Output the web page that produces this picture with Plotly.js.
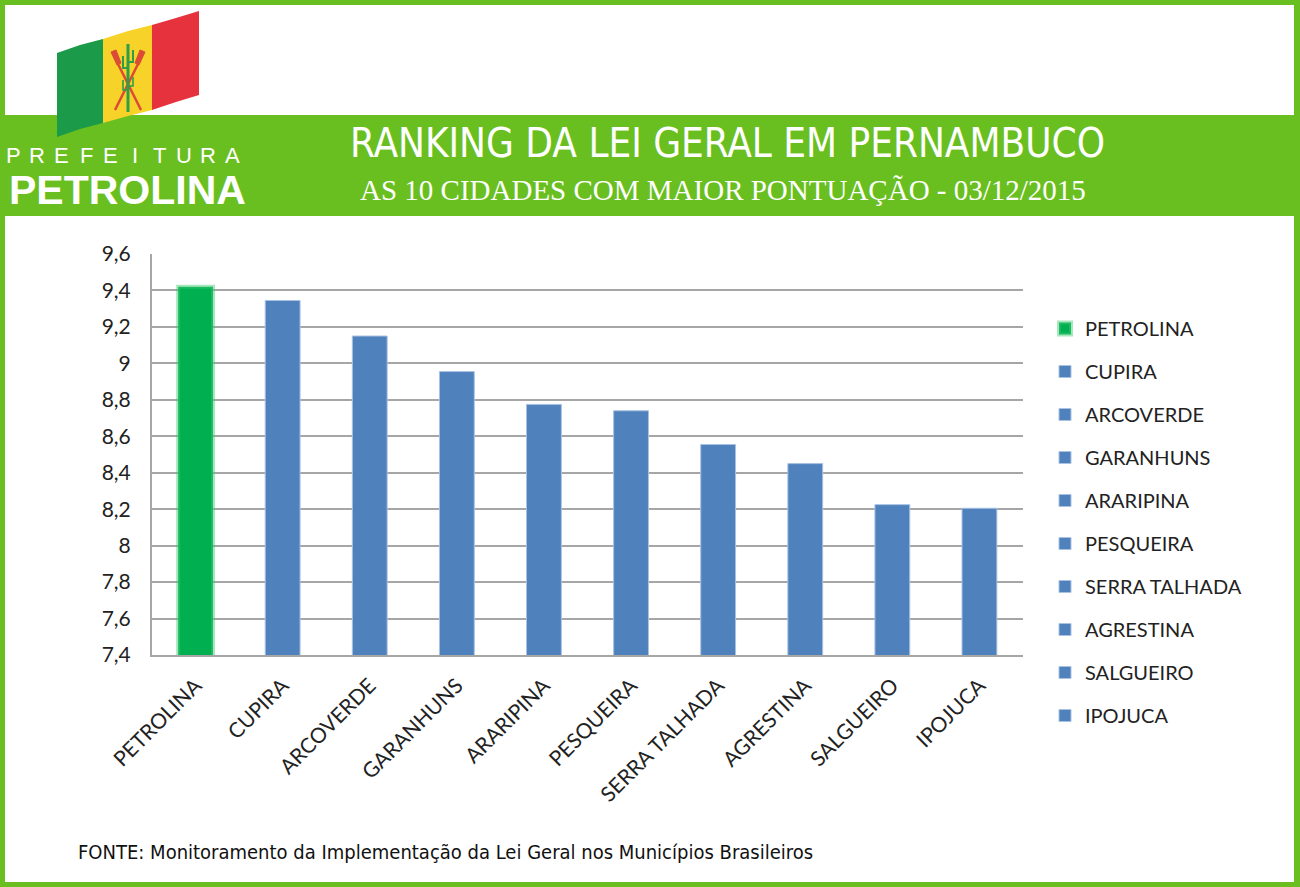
<!DOCTYPE html>
<html>
<head>
<meta charset="utf-8">
<script src="https://cdn.plot.ly/plotly-3.0.1.min.js"></script>
<style>html,body{margin:0;padding:0;background:#fff;}#chart{width:1300px;height:887px;}</style>
</head>
<body>
<div id="chart"></div>
<script>
// ---- data ----
const categories = ["PETROLINA","CUPIRA","ARCOVERDE","GARANHUNS","ARARIPINA","PESQUEIRA","SERRA TALHADA","AGRESTINA","SALGUEIRO","IPOJUCA"];
const scores = [9.42, 9.345, 9.15, 8.955, 8.775, 8.74, 8.555, 8.45, 8.225, 8.205];
const barColors = ["#00b050","#4f81bd","#4f81bd","#4f81bd","#4f81bd","#4f81bd","#4f81bd","#4f81bd","#4f81bd","#4f81bd"];
const yTicks = [7.4, 7.6, 7.8, 8, 8.2, 8.4, 8.6, 8.8, 9, 9.2, 9.4, 9.6];
const titleText = "RANKING DA LEI GERAL EM PERNAMBUCO";
const subtitleText = "AS 10 CIDADES COM MAIOR PONTUAÇÃO - 03/12/2015";
const sourceText = "FONTE: Monitoramento da Implementação da Lei Geral nos Municípios Brasileiros";
const logoTop = "PREFEITURA";
const logoBottom = "PETROLINA";

// ---- geometry helpers (pixel -> paper) ----
const W = 1300, H = 887;
const ML = 152, MR = W - 1023, MT = 254, MB = H - 655;
const PW = W - ML - MR, PH = H - MT - MB;
const px = x => (x - ML) / PW;
const py = y => (H - MB - y) / PH;
function path(str) {
  const toks = str.trim().split(/\s+/);
  let out = [], isX = true;
  for (const t of toks) {
    if (/^[A-Za-z]$/.test(t)) { out.push(t); isX = true; continue; }
    const v = parseFloat(t);
    out.push(isX ? px(v).toFixed(5) : py(v).toFixed(5));
    isX = !isX;
  }
  return out.join(' ');
}
function rect(x0, y0, x1, y1, color, layer) {
  return {type:'rect', xref:'paper', yref:'paper', x0:px(x0), x1:px(x1), y0:py(y1), y1:py(y0),
          fillcolor: color, line:{width:0}, layer: layer || 'below'};
}
function pshape(str, fill, lineColor, lineWidth, layer) {
  return {type:'path', xref:'paper', yref:'paper', path: path(str), fillcolor: fill,
          line:{color: lineColor || 'rgba(0,0,0,0)', width: lineWidth || 0}, layer: layer || 'above'};
}

const GREEN = "#6abf20";

const shapes = [
  rect(5, 5, 1294, 115, '#ffffff'),
  rect(5, 216, 1294, 882, '#ffffff'),
  // flag stripes
  pshape("M 57 53 L 80 45 L 103 39 L 103 123 L 80 129 L 57 137 Z", '#1b9a4a'),
  pshape("M 103 39 L 128 31 L 152 25 L 152 110 L 128 116 L 103 123 Z", '#f7d229'),
  pshape("M 152 25 L 176 18 L 199 11 L 199 95 L 176 102 L 152 110 Z", '#e6323d'),
  // emblem: oars
  pshape("M 117 62 L 141 110", null, '#dc4b35', 2.5),
  pshape("M 139 62 L 115 110", null, '#dc4b35', 2.5),
  pshape("M 111 52 L 116 50 L 121 63 L 117 65 Z", '#dc4b35', '#dc4b35', 1),
  pshape("M 140 50 L 145 52 L 139 65 L 135 63 Z", '#dc4b35', '#dc4b35', 1),
  // emblem: cactus
  pshape("M 128 44 L 128 112", null, '#2e9e47', 3),
  pshape("M 128 68 L 123 68 L 123 56", null, '#2e9e47', 2),
  pshape("M 128 62 L 133 62 L 133 50", null, '#2e9e47', 2),
  pshape("M 128 90 L 123 90 L 123 80", null, '#2e9e47', 1.6),
  pshape("M 128 86 L 133 86 L 133 77", null, '#2e9e47', 1.6)
];

const annotations = [
  {text: titleText, xref:'paper', yref:'paper', x: px(727), y: py(143), xanchor:'center', yanchor:'middle',
   showarrow:false, font:{family:'"DejaVu Sans Condensed", "Liberation Sans Narrow", sans-serif', size:40, color:'#ffffff'}},
  {text: subtitleText, xref:'paper', yref:'paper', x: px(723), y: py(190), xanchor:'center', yanchor:'middle',
   showarrow:false, font:{family:'"Liberation Serif", "DejaVu Serif", serif', size:29, color:'#ffffff'}},
  {text: sourceText, xref:'paper', yref:'paper', x: px(76), y: py(852), xanchor:'left', yanchor:'middle',
   showarrow:false, font:{family:'"DejaVu Sans Condensed", "Liberation Sans Narrow", sans-serif', size:20, color:'#111111'}},
  {text: logoBottom, xref:'paper', yref:'paper', x: px(7), y: py(190), xanchor:'left', yanchor:'middle',
   showarrow:false, font:{family:'"Liberation Sans", Arial, sans-serif', size:41, color:'#ffffff', weight:900}}
];
logoTop.split('').forEach((ch, i) => {
  annotations.push({text: ch, xref:'paper', yref:'paper', x: px(13 + i * 24.4), y: py(156), xanchor:'center', yanchor:'middle',
    showarrow:false, font:{family:'"Liberation Sans", Arial, sans-serif', size:22, color:'#ffffff'}});
});

const traces = categories.map((c, i) => ({
  type:'bar', x:[c], y:[scores[i]], name:c, legendgroup:c,
  marker:{color: barColors[i],
          line: i === 0 ? {color:'rgba(60,200,110,0.45)', width:4} : {color:'#a9c2e2', width:1}},
  hoverinfo:'skip'
}));

const layout = {
  width: W, height: H,
  margin:{l:ML, r:MR, t:MT, b:MB, pad:0, autoexpand:false},
  paper_bgcolor: GREEN, plot_bgcolor: 'rgba(0,0,0,0)',
  separators: ',.',
  barmode:'overlay', bargap:0.6,
  showlegend:true,
  legend:{x: px(1045), y: py(309), xanchor:'left', yanchor:'top', tracegroupgap:14, maxheight:700,
          itemwidth:30,
          font:{family:'Lato, "Open Sans", sans-serif', size:20, color:'#222222'},
          bgcolor:'rgba(0,0,0,0)', itemclick:false, itemdoubleclick:false},
  xaxis:{type:'category', categoryarray: categories, categoryorder:'array', tickangle:-45,
         tickfont:{family:'Lato, "Open Sans", sans-serif', size:21, color:'#222222'},
         showgrid:false, showline:true, linecolor:'#a6a6a6', linewidth:2, ticks:'', ticklabelstandoff:8,
         fixedrange:true, automargin:false},
  yaxis:{range:[7.4, 9.6], tickvals: yTicks, ticktext: yTicks.map(v => String(v).replace('.', ',')),
         tickfont:{family:'Lato, "Open Sans", sans-serif', size:21, color:'#222222'},
         showgrid:true, gridcolor:'#a6a6a6', gridwidth:2, zeroline:false,
         showline:true, linecolor:'#a6a6a6', linewidth:2, ticks:'', ticklabelstandoff:15, fixedrange:true, automargin:false},
  shapes: shapes,
  annotations: annotations
};

Plotly.newPlot('chart', traces, layout, {displayModeBar:false, staticPlot:true});
</script>
</body>
</html>
